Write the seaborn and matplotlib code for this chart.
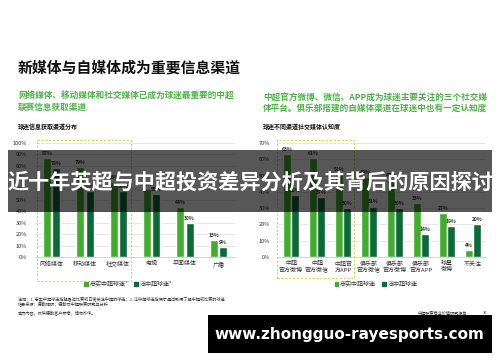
import matplotlib
matplotlib.use('Agg')
import matplotlib.pyplot as plt
import seaborn as sns
import pandas as pd
from matplotlib.patches import Rectangle

# ---------------- data ----------------
left_categories = ['网络媒体', '移动媒体', '社交媒体', '电视', '平面媒体', '广播']
left_loyal = [87, 79, 66, 60, 44, 15]
left_casual = [78, 58, 58, 55, 30, 9]

right_categories = ['中超\n官方微博', '中超\n官方微信', '中超官\n方APP', '俱乐部\n官方微信',
                    '俱乐部\n官方微博', '俱乐部\n官方APP', '球星\n微博', '不关注']
right_loyal = [63, 61, 51, 49, 47, 33, 27, 4]
right_casual = [38, 37, 30, 31, 30, 14, 19, 20]

series_names = ['忠实中超球迷', '泛中超球迷']
left_legend_labels = ['忠实中超球迷¹', '泛中超球迷²']
right_legend_labels = ['忠实中超球迷', '泛中超球迷']
left_yticks = [0, 10, 20, 30, 40, 50, 60, 70, 80, 90, 100]
right_yticks = [0, 10, 20, 30, 40, 50, 60, 70]

main_title = '新媒体与自媒体成为重要信息渠道'
left_sub = '网络媒体、移动媒体和社交媒体已成为球迷最重要的中超\n联赛信息获取渠道'
right_sub = '中超官方微博、微信、APP成为球迷主要关注的三个社交媒\n体平台。俱乐部搭建的自媒体渠道在球迷中也有一定认知度'
left_chart_title = '球迷信息获取渠道分布'
right_chart_title = '球迷不同渠道社交媒体认知度'
banner_text = '近十年英超与中超投资差异分析及其背后的原因探讨'
url_text = 'www.zhongguo-rayesports.com'
note1 = '注释：1. 忠实中超球迷指观看过比赛或日常关注中超的球迷；2. 泛中超球迷指偶尔通过新闻了解中超或比赛的球迷'
note2 = '信息来源：德勤调研；德勤及中超联赛研究与分析'
note3 = '本页内容，仅供德勤客户参考，请勿外传。'
footer_right = '中超联赛商业价值研究报告'
page_no = '35'

# ---------------- style ----------------
sns.set_style('white')
plt.rcParams['font.family'] = ['Noto Sans CJK SC', 'DejaVu Sans']

c_light = '#41AD2C'
c_dark = '#0B6B38'
green_txt = '#4BB543'
box_col = '#D2DC4A'

W, H = 500, 362
fig = plt.figure(figsize=(W / 100, H / 100), dpi=100)
fig.patch.set_facecolor('white')


def fx(x):
    return x / W


def fy(y):
    return 1 - y / H


def make_df(cats, a, b):
    return pd.DataFrame({
        'cat': cats * 2,
        'val': a + b,
        'series': [series_names[0]] * len(cats) + [series_names[1]] * len(cats),
    })


def draw(ax, df, cats, yticks, ymax, width):
    sns.barplot(data=df, x='cat', y='val', hue='series', order=cats,
                hue_order=series_names, palette=[c_light, c_dark],
                width=width, gap=0.12, ax=ax, legend=False, saturation=1)
    ax.set_ylim(0, ymax)
    ax.set_yticks(yticks)
    ax.set_yticklabels([f'{t}%' for t in yticks], fontsize=4, color='#333333')
    ax.set_xlabel('')
    ax.set_ylabel('')
    ax.tick_params(axis='x', labelsize=4.3, length=0, pad=3, colors='#333333')
    ax.tick_params(axis='y', length=0, pad=6)
    ax.grid(axis='y', color='#E3E3E3', linewidth=0.6)
    ax.set_axisbelow(True)
    for s in ['top', 'right', 'left']:
        ax.spines[s].set_visible(False)
    ax.spines['bottom'].set_color('#CCCCCC')
    ax.spines['bottom'].set_linewidth(0.6)
    for cont in ax.containers:
        ax.bar_label(cont, fmt='%d%%', fontsize=3.6, padding=1.5, color='#333333',
                     fontweight='bold')
    return [Rectangle((0, 0), 1, 1, color=c_light), Rectangle((0, 0), 1, 1, color=c_dark)]


# left chart
axL = fig.add_axes([fx(35), fy(257), fx(235 - 35), (257 - 143) / H])
hL = draw(axL, make_df(left_categories, left_loyal, left_casual), left_categories,
          left_yticks, 100, 0.55)
fig.legend(hL, left_legend_labels, loc='center', bbox_to_anchor=(fx(128), fy(284)),
           ncol=2, frameon=False, fontsize=4.3, handlelength=0.6, handleheight=0.6,
           handletextpad=0.3, columnspacing=1.0, labelcolor='#333333')

# right chart
axR = fig.add_axes([fx(278), fy(257), fx(486 - 278), (257 - 143) / H])
hR = draw(axR, make_df(right_categories, right_loyal, right_casual), right_categories,
          right_yticks, 70, 0.62)
fig.legend(hR, right_legend_labels, loc='center', bbox_to_anchor=(fx(376), fy(284)),
           ncol=2, frameon=False, fontsize=4.3, handlelength=0.6, handleheight=0.6,
           handletextpad=0.3, columnspacing=1.0, labelcolor='#333333')

# dashed highlight boxes
for x0, x1, y0, y1 in [(37, 131, 140, 281), (277, 354, 140, 278)]:
    fig.patches.append(Rectangle((fx(x0), fy(y1)), fx(x1 - x0), (y1 - y0) / H,
                                 transform=fig.transFigure, fill=False,
                                 edgecolor=box_col, linestyle=(0, (2, 1.5)),
                                 linewidth=0.8, zorder=5))

# texts
fig.text(fx(18), fy(68), main_title, fontsize=10.7, fontweight='bold', color='#111111',
         va='center', ha='left')
fig.text(fx(18), fy(102), left_sub, fontsize=6.2, fontweight='bold', color=green_txt,
         va='center', ha='left', linespacing=1.25)
fig.text(fx(263), fy(103), right_sub, fontsize=6.2, fontweight='bold', color=green_txt,
         va='center', ha='left', linespacing=1.25)
fig.text(fx(18), fy(126), left_chart_title, fontsize=4.3, fontweight='bold', color='#111111',
         va='center', ha='left')
fig.text(fx(263), fy(126), right_chart_title, fontsize=4.3, fontweight='bold', color='#111111',
         va='center', ha='left')
fig.text(fx(18), fy(299), note1, fontsize=3, color='#333333', va='center', ha='left')
fig.text(fx(18), fy(304), note2, fontsize=3, color='#333333', va='center', ha='left')
fig.text(fx(18), fy(313), note3, fontsize=3, color='#333333', va='center', ha='left')
fig.text(fx(418), fy(313), footer_right, fontsize=3, color='#333333', va='center', ha='left')
fig.text(fx(483), fy(313), page_no, fontsize=3, color='#333333', va='center', ha='left')

# banner overlay
fig.patches.append(Rectangle((fx(8), fy(212)), fx(492 - 8), (212 - 150) / H,
                             transform=fig.transFigure, facecolor='black', alpha=0.66,
                             edgecolor='none', zorder=10))
fig.text(0.5, fy(182), banner_text, fontsize=15.2, fontweight='bold', color='white',
         va='center', ha='center', zorder=11)

# bottom url box
fig.patches.append(Rectangle((fx(208), fy(353)), fx(492 - 208), (353 - 315) / H,
                             transform=fig.transFigure, facecolor='black',
                             edgecolor='none', zorder=10))
fig.text(fx(349), fy(334), url_text, fontsize=11, fontweight='bold', color='white',
         va='center', ha='center', zorder=11, family=['DejaVu Sans'])

fig.savefig('out.png', dpi=100)
